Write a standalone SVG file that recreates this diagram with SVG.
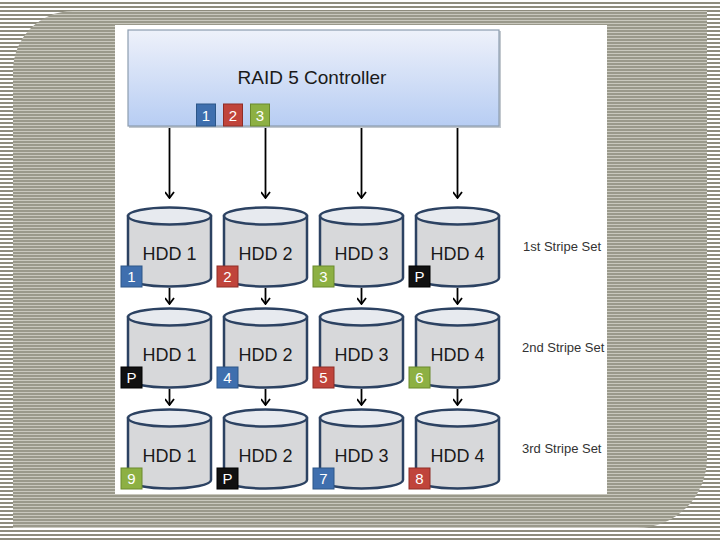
<svg xmlns="http://www.w3.org/2000/svg" xmlns:xlink="http://www.w3.org/1999/xlink" width="720" height="540" viewBox="0 0 720 540">
<defs>
<style>
.lbl{font-family:"Liberation Sans",Arial,sans-serif;fill:#1a1a1a;}
.hdd{font-size:18px;text-anchor:middle;}
.set{font-size:13px;fill:#333;}
.bt{font-family:"Liberation Sans",Arial,sans-serif;font-size:15px;fill:#fff;text-anchor:middle;}
.blue{fill:#3f6fae;stroke:#2c5688;stroke-width:1;}
.red{fill:#c0443b;stroke:#8f2c26;stroke-width:1;}
.green{fill:#8db043;stroke:#6a8a2c;stroke-width:1;}
.black{fill:#111;stroke:#000;stroke-width:1;}
.body{fill:#d7d8da;stroke:#2c4262;stroke-width:2.5;}
.top{fill:#e7eaef;stroke:#2c4262;stroke-width:2.5;}
.conn line{stroke:#000;stroke-width:1.8;marker-end:url(#arr);}
</style>
<pattern id="outer" width="8" height="4" patternUnits="userSpaceOnUse">
<rect width="8" height="4" fill="#ffffff"/>
<rect y="2" width="8" height="2" fill="#8e8c7e"/>
</pattern>
<pattern id="inner" width="8" height="3" patternUnits="userSpaceOnUse">
<rect width="8" height="3" fill="#9a998b"/>
<rect y="2" width="8" height="1" fill="#c9c8be"/>
</pattern>
<linearGradient id="ctrl" x1="0" y1="0" x2="0" y2="1">
<stop offset="0" stop-color="#eef1fa"/>
<stop offset="1" stop-color="#b7cdf3"/>
</linearGradient>
<marker id="arr" viewBox="0 0 10 10" refX="9" refY="5" markerWidth="10" markerHeight="10" markerUnits="userSpaceOnUse" orient="auto">
<path d="M3,0.5 L9,5 L3,9.5" fill="none" stroke="#000" stroke-width="1.8"/>
</marker>
<g id="cyl">
<path class="body" d="M-41.5,0 V62 A41.5,8.5 0 0 0 41.5,62 V0 Z"/>
<ellipse class="top" cx="0" cy="0" rx="41.5" ry="8.5"/>
</g>
</defs>

<rect width="720" height="540" fill="url(#outer)"/>
<path d="M13,71 A60,60 0 0 1 73,11 H707 V458 A70,70 0 0 1 637,528 H13 Z" fill="url(#inner)"/>
<rect x="115" y="25" width="492" height="469" fill="#ffffff"/>

<g id="controller">
<rect x="129" y="31" width="372" height="97" fill="#9aa3ad" opacity="0.6"/>
<rect x="128" y="30" width="371" height="96" fill="url(#ctrl)" stroke="#8d9db0" stroke-width="1.2"/>
<text class="lbl" x="312" y="84" font-size="19" text-anchor="middle">RAID 5 Controller</text>
<rect class="blue" x="196.5" y="104" width="19" height="22"/>
<text class="bt" x="206" y="121">1</text>
<rect class="red" x="223.5" y="104" width="19" height="22"/>
<text class="bt" x="233" y="121">2</text>
<rect class="green" x="250.5" y="104" width="19" height="22"/>
<text class="bt" x="260" y="121">3</text>
</g>

<g id="connectors" class="conn">
<line x1="169.5" y1="128" x2="169.5" y2="198"/>
<line x1="265.5" y1="128" x2="265.5" y2="198"/>
<line x1="361.5" y1="128" x2="361.5" y2="198"/>
<line x1="457.5" y1="128" x2="457.5" y2="198"/>
<line x1="169.5" y1="288" x2="169.5" y2="304"/>
<line x1="265.5" y1="288" x2="265.5" y2="304"/>
<line x1="361.5" y1="288" x2="361.5" y2="304"/>
<line x1="457.5" y1="288" x2="457.5" y2="304"/>
<line x1="169.5" y1="389" x2="169.5" y2="405"/>
<line x1="265.5" y1="389" x2="265.5" y2="405"/>
<line x1="361.5" y1="389" x2="361.5" y2="405"/>
<line x1="457.5" y1="389" x2="457.5" y2="405"/>
</g>

<g id="hdd1-r1" transform="translate(169.5,216)">
<use xlink:href="#cyl"/>
<text class="lbl hdd" x="0" y="44">HDD 1</text>
<rect class="blue" x="-48.5" y="50" width="21" height="21"/>
<text class="bt" x="-38" y="66">1</text>
</g>
<g id="hdd2-r1" transform="translate(265.5,216)">
<use xlink:href="#cyl"/>
<text class="lbl hdd" x="0" y="44">HDD 2</text>
<rect class="red" x="-48.5" y="50" width="21" height="21"/>
<text class="bt" x="-38" y="66">2</text>
</g>
<g id="hdd3-r1" transform="translate(361.5,216)">
<use xlink:href="#cyl"/>
<text class="lbl hdd" x="0" y="44">HDD 3</text>
<rect class="green" x="-48.5" y="50" width="21" height="21"/>
<text class="bt" x="-38" y="66">3</text>
</g>
<g id="hdd4-r1" transform="translate(457.5,216)">
<use xlink:href="#cyl"/>
<text class="lbl hdd" x="0" y="44">HDD 4</text>
<rect class="black" x="-48.5" y="50" width="21" height="21"/>
<text class="bt" x="-38" y="66">P</text>
</g>

<g id="hdd1-r2" transform="translate(169.5,317)">
<use xlink:href="#cyl"/>
<text class="lbl hdd" x="0" y="44">HDD 1</text>
<rect class="black" x="-48.5" y="50" width="21" height="21"/>
<text class="bt" x="-38" y="66">P</text>
</g>
<g id="hdd2-r2" transform="translate(265.5,317)">
<use xlink:href="#cyl"/>
<text class="lbl hdd" x="0" y="44">HDD 2</text>
<rect class="blue" x="-48.5" y="50" width="21" height="21"/>
<text class="bt" x="-38" y="66">4</text>
</g>
<g id="hdd3-r2" transform="translate(361.5,317)">
<use xlink:href="#cyl"/>
<text class="lbl hdd" x="0" y="44">HDD 3</text>
<rect class="red" x="-48.5" y="50" width="21" height="21"/>
<text class="bt" x="-38" y="66">5</text>
</g>
<g id="hdd4-r2" transform="translate(457.5,317)">
<use xlink:href="#cyl"/>
<text class="lbl hdd" x="0" y="44">HDD 4</text>
<rect class="green" x="-48.5" y="50" width="21" height="21"/>
<text class="bt" x="-38" y="66">6</text>
</g>

<g id="hdd1-r3" transform="translate(169.5,418)">
<use xlink:href="#cyl"/>
<text class="lbl hdd" x="0" y="44">HDD 1</text>
<rect class="green" x="-48.5" y="50" width="21" height="21"/>
<text class="bt" x="-38" y="66">9</text>
</g>
<g id="hdd2-r3" transform="translate(265.5,418)">
<use xlink:href="#cyl"/>
<text class="lbl hdd" x="0" y="44">HDD 2</text>
<rect class="black" x="-48.5" y="50" width="21" height="21"/>
<text class="bt" x="-38" y="66">P</text>
</g>
<g id="hdd3-r3" transform="translate(361.5,418)">
<use xlink:href="#cyl"/>
<text class="lbl hdd" x="0" y="44">HDD 3</text>
<rect class="blue" x="-48.5" y="50" width="21" height="21"/>
<text class="bt" x="-38" y="66">7</text>
</g>
<g id="hdd4-r3" transform="translate(457.5,418)">
<use xlink:href="#cyl"/>
<text class="lbl hdd" x="0" y="44">HDD 4</text>
<rect class="red" x="-48.5" y="50" width="21" height="21"/>
<text class="bt" x="-38" y="66">8</text>
</g>

<g id="stripe-labels">
<text class="lbl set" x="523" y="251">1st Stripe Set</text>
<text class="lbl set" x="522" y="352">2nd Stripe Set</text>
<text class="lbl set" x="522" y="453">3rd Stripe Set</text>
</g>
</svg>
